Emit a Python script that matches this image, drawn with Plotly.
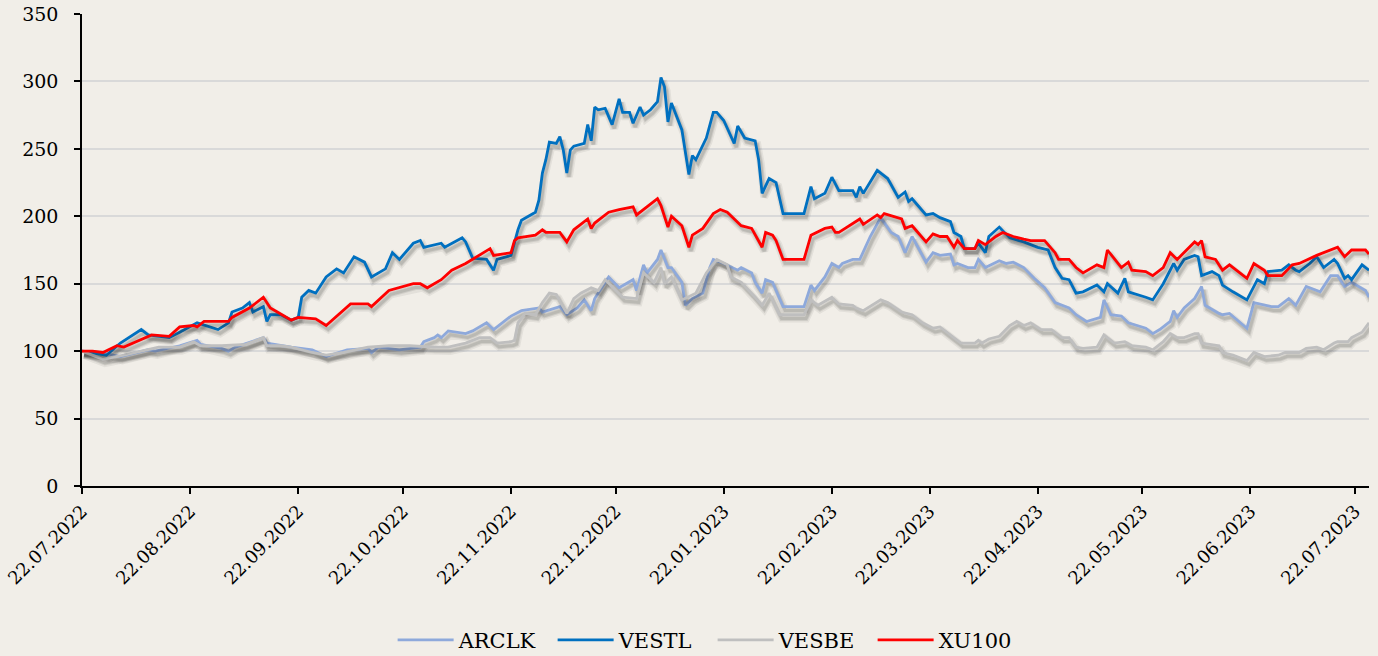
import pandas as pd
import plotly.graph_objects as go

# ---------------- DATA (days since 22.07.2022, index value) ----------------
START = "2022-07-22"

vestl_day = [0, 7, 11, 17, 19, 25, 28, 33, 39, 42, 43, 46, 48, 49, 52, 53, 54, 57, 60, 62,
             63, 65, 67, 70, 73, 75, 78, 81, 83, 87, 89, 91, 95, 97, 98, 103, 104, 109, 110, 112,
             116, 118, 119, 123, 125, 126, 130, 131, 132, 133, 134, 136, 137, 138, 139, 140, 141, 144, 145, 146,
             147, 148, 150, 152, 154, 155, 157, 158, 160, 161, 163, 165, 166, 167, 168, 169, 172, 174, 175, 176,
             179, 181, 182, 184, 187, 188, 190, 193, 194, 195, 197, 199, 201, 207, 209, 210, 213, 215, 217, 221,
             222, 223, 224, 228, 231, 234, 236, 237, 238, 242, 244, 246, 249, 250, 252, 253, 256, 257, 259, 260,
             263, 266, 270, 274, 277, 279, 281, 283, 285, 287, 291, 293, 294, 297, 299, 300, 305, 307, 310, 313,
             314, 316, 319, 320, 321, 324, 326, 327, 330, 334, 337, 339, 340, 344, 346, 348, 349, 352, 354, 356,
             359, 360, 362, 363, 364, 367, 369]
vestl = [100, 97, 106, 116, 112, 110, 114, 121, 116, 121, 129, 132, 136, 129, 133, 122, 127, 127, 123, 125,
         140, 145, 143, 155, 161, 158, 170, 166, 155, 161, 173, 168, 180, 182, 177, 180, 177, 184, 181, 169,
         168, 160, 168, 171, 190, 197, 203, 212, 232, 242, 255, 254, 259, 249, 232, 249, 252, 254, 268, 256,
         281, 279, 280, 268, 287, 277, 277, 269, 281, 275, 279, 285, 303, 296, 270, 284, 264, 231, 245, 242,
         258, 277, 277, 271, 254, 267, 258, 256, 242, 217, 228, 225, 202, 202, 222, 213, 217, 229, 219, 219,
         214, 222, 217, 234, 228, 214, 218, 211, 213, 201, 202, 199, 196, 188, 185, 176, 176, 180, 173, 185,
         192, 184, 181, 177, 175, 162, 154, 153, 143, 144, 149, 144, 150, 143, 154, 144, 140, 138, 150, 165,
         160, 168, 171, 170, 156, 159, 156, 149, 144, 138, 153, 150, 159, 160, 164, 160, 159, 165, 170, 162,
         168, 165, 154, 156, 153, 164, 160]

xu100_day = [0, 3, 6, 10, 12, 17, 20, 25, 28, 32, 33, 35, 42, 43, 48, 52, 54, 56, 60, 62,
             67, 70, 75, 77, 82, 83, 88, 95, 97, 99, 103, 106, 110, 112, 117, 118, 123, 124, 125, 130,
             132, 133, 137, 139, 141, 145, 146, 147, 151, 154, 158, 159, 161, 165, 166, 168, 169, 172, 174, 175,
             178, 181, 183, 185, 189, 192, 195, 196, 198, 199, 201, 207, 209, 213, 215, 216, 217, 223, 224, 228,
             229, 230, 235, 236, 238, 242, 244, 246, 248, 250, 251, 253, 256, 257, 259, 262, 264, 267, 270, 272,
             276, 279, 280, 283, 285, 287, 291, 293, 294, 298, 300, 301, 305, 307, 310, 312, 314, 319, 320, 321,
             322, 325, 327, 329, 334, 336, 339, 340, 344, 347, 349, 354, 360, 362, 364, 368, 369]
xu100 = [100, 100, 99, 104, 103, 109, 112, 111, 118, 119, 118, 122, 122, 125, 132, 140, 132, 129, 123, 125,
         124, 119, 130, 135, 135, 133, 145, 150, 150, 147, 153, 160, 165, 168, 176, 171, 173, 182, 184, 186,
         190, 188, 188, 181, 190, 198, 191, 195, 203, 205, 207, 201, 205, 213, 208, 192, 200, 193, 177, 186,
         191, 202, 205, 203, 193, 191, 177, 188, 186, 182, 168, 168, 186, 191, 192, 188, 188, 198, 194, 201,
         199, 202, 198, 191, 193, 181, 187, 185, 185, 177, 182, 176, 176, 182, 179, 185, 188, 185, 183, 182,
         182, 173, 168, 168, 162, 158, 164, 162, 175, 162, 166, 160, 159, 156, 162, 173, 168, 181, 179, 182,
         170, 168, 160, 164, 154, 165, 160, 156, 156, 164, 165, 171, 177, 170, 175, 175, 172]

arclk_day = [0, 5, 11, 19, 21, 28, 33, 34, 40, 42, 44, 52, 53, 60, 66, 70, 76, 82, 83, 85,
             91, 97, 98, 101, 102, 103, 105, 110, 112, 116, 118, 123, 126, 128, 131, 132, 137, 139, 142, 144,
             146, 147, 151, 154, 158, 159, 161, 162, 165, 166, 168, 169, 172, 173, 175, 178, 180, 181, 184, 188,
             189, 192, 193, 195, 196, 198, 199, 201, 207, 209, 210, 213, 215, 217, 218, 221, 223, 226, 229, 232,
             234, 236, 238, 240, 242, 244, 246, 249, 250, 251, 254, 256, 257, 259, 263, 265, 267, 270, 273, 276,
             279, 283, 285, 288, 292, 293, 295, 298, 300, 305, 307, 309, 312, 313, 314, 316, 319, 321, 322, 326,
             327, 329, 334, 336, 341, 343, 346, 348, 351, 355, 358, 360, 362, 364, 368, 369]
arclk = [100, 99, 96, 101, 100, 104, 108, 105, 102, 100, 103, 110, 106, 103, 101, 96, 101, 102, 99, 103,
         101, 103, 107, 110, 112, 110, 115, 113, 115, 121, 116, 126, 130, 131, 132, 129, 133, 127, 132, 138,
         130, 139, 155, 147, 153, 145, 164, 158, 168, 175, 162, 162, 151, 134, 139, 143, 162, 168, 165, 160,
         162, 158, 151, 143, 153, 151, 145, 133, 133, 149, 145, 155, 165, 162, 165, 168, 168, 185, 199, 188,
         185, 173, 185, 175, 166, 173, 171, 172, 164, 165, 162, 162, 168, 162, 167, 165, 166, 162, 154, 147,
         136, 132, 127, 122, 125, 138, 127, 126, 121, 117, 113, 116, 122, 130, 125, 132, 139, 148, 134, 128,
         127, 128, 117, 136, 133, 133, 139, 134, 148, 144, 156, 156, 148, 151, 145, 140]

vesbe_day = [0, 6, 12, 19, 22, 28, 32, 34, 40, 47, 52, 53, 57, 60, 66, 70, 75, 82, 88, 94,
             101, 105, 110, 114, 117, 119, 123, 124, 125, 127, 130, 132, 134, 136, 139, 141, 143, 146, 148, 150,
             155, 159, 161, 164, 166, 167, 169, 172, 176, 179, 182, 185, 186, 189, 192, 193, 195, 197, 200, 207,
             209, 211, 215, 217, 221, 222, 224, 229, 231, 235, 238, 241, 244, 246, 248, 250, 252, 256, 257, 258,
             260, 263, 266, 268, 270, 272, 275, 278, 281, 283, 285, 287, 291, 293, 296, 299, 301, 305, 307, 310,
             312, 314, 316, 319, 320, 321, 326, 327, 330, 334, 336, 339, 343, 345, 349, 351, 354, 356, 359, 360,
             363, 364, 367, 369]
vesbe = [100, 94, 97, 101, 103, 103, 107, 104, 104, 105, 110, 104, 104, 103, 99, 97, 99, 103, 104, 104,
         103, 103, 106, 110, 110, 106, 107, 108, 121, 128, 127, 136, 143, 142, 128, 139, 143, 147, 145, 153,
         140, 139, 158, 151, 162, 150, 155, 138, 143, 158, 168, 164, 155, 151, 143, 140, 134, 143, 127, 127,
         138, 134, 140, 135, 134, 132, 130, 138, 136, 129, 127, 121, 117, 118, 114, 110, 106, 106, 108, 106,
         109, 111, 119, 122, 119, 121, 116, 116, 110, 110, 103, 102, 103, 112, 106, 107, 104, 103, 101, 107,
         113, 110, 110, 113, 113, 106, 104, 99, 97, 93, 99, 96, 97, 99, 99, 102, 103, 101, 106, 107,
         107, 110, 114, 121]

tick_labels = ["22.07.2022", "22.08.2022", "22.09.2022", "22.10.2022", "22.11.2022", "22.12.2022",
               "22.01.2023", "22.02.2023", "22.03.2023", "22.04.2023", "22.05.2023", "22.06.2023",
               "22.07.2023"]
y_ticks = [0, 50, 100, 150, 200, 250, 300, 350]

series = [
    ("ARCLK", arclk_day, arclk, "#8EA9DB"),
    ("VESTL", vestl_day, vestl, "#0070C0"),
    ("VESBE", vesbe_day, vesbe, "#BFBFBF"),
    ("XU100", xu100_day, xu100, "#FF0000"),
]

# ---------------- FIGURE ----------------
start = pd.Timestamp(START)


def to_dates(days, shift=0.0):
    return [start + pd.Timedelta(days=d + shift) for d in days]


fig = go.Figure()
for name, days, vals, color in series:
    # soft drop shadow under each line
    for w, a in [(8, 0.07), (5, 0.10), (3, 0.12)]:
        fig.add_trace(go.Scatter(
            x=to_dates(days, 0.6), y=[v - 2.8 for v in vals], mode="lines",
            line=dict(color=f"rgba(40,40,40,{a})", width=w),
            showlegend=False, hoverinfo="skip"))
    fig.add_trace(go.Scatter(
        x=to_dates(days), y=vals, mode="lines", name=name,
        line=dict(color=color, width=2.8)))

tick_vals = [pd.to_datetime(t, format="%d.%m.%Y") for t in tick_labels]
bg = "#F1EEE8"
tick_font = "DejaVu Serif, serif"

fig.update_layout(
    width=1378, height=656,
    margin=dict(l=82, r=9, t=14, b=170),
    paper_bgcolor=bg, plot_bgcolor=bg,
    font=dict(family=tick_font, size=18, color="#000000"),
    showlegend=True,
    legend=dict(orientation="h", x=0.490, xanchor="center",
                yref="container", y=0.024, yanchor="middle",
                font=dict(family=tick_font, size=21), bgcolor="rgba(0,0,0,0)",
                itemwidth=56, entrywidth=89, entrywidthmode="pixels",
                traceorder="normal"),
    xaxis=dict(
        automargin=False,
        range=[start, start + pd.Timedelta(days=369)],
        tickvals=tick_vals, ticktext=tick_labels, tickangle=-45,
        showgrid=False, showline=True, linecolor="#000000", linewidth=1.5,
        ticks="outside", ticklen=6, tickcolor="#000000", tickwidth=1.5,
        tickfont=dict(size=18), zeroline=False),
    yaxis=dict(
        automargin=False,
        range=[0, 350], tickvals=y_ticks,
        showgrid=True, gridcolor="#D9D9D9", gridwidth=1.5,
        showline=True, linecolor="#000000", linewidth=1.5,
        ticks="outside", ticklen=6, tickcolor="#000000", tickwidth=1.5,
        ticklabelstandoff=12,
        tickfont=dict(size=19), zeroline=False),
)

fig.write_html("out.html", config={"displayModeBar": False},
               post_script="document.body.style.margin='0';document.body.style.overflow='hidden';")
